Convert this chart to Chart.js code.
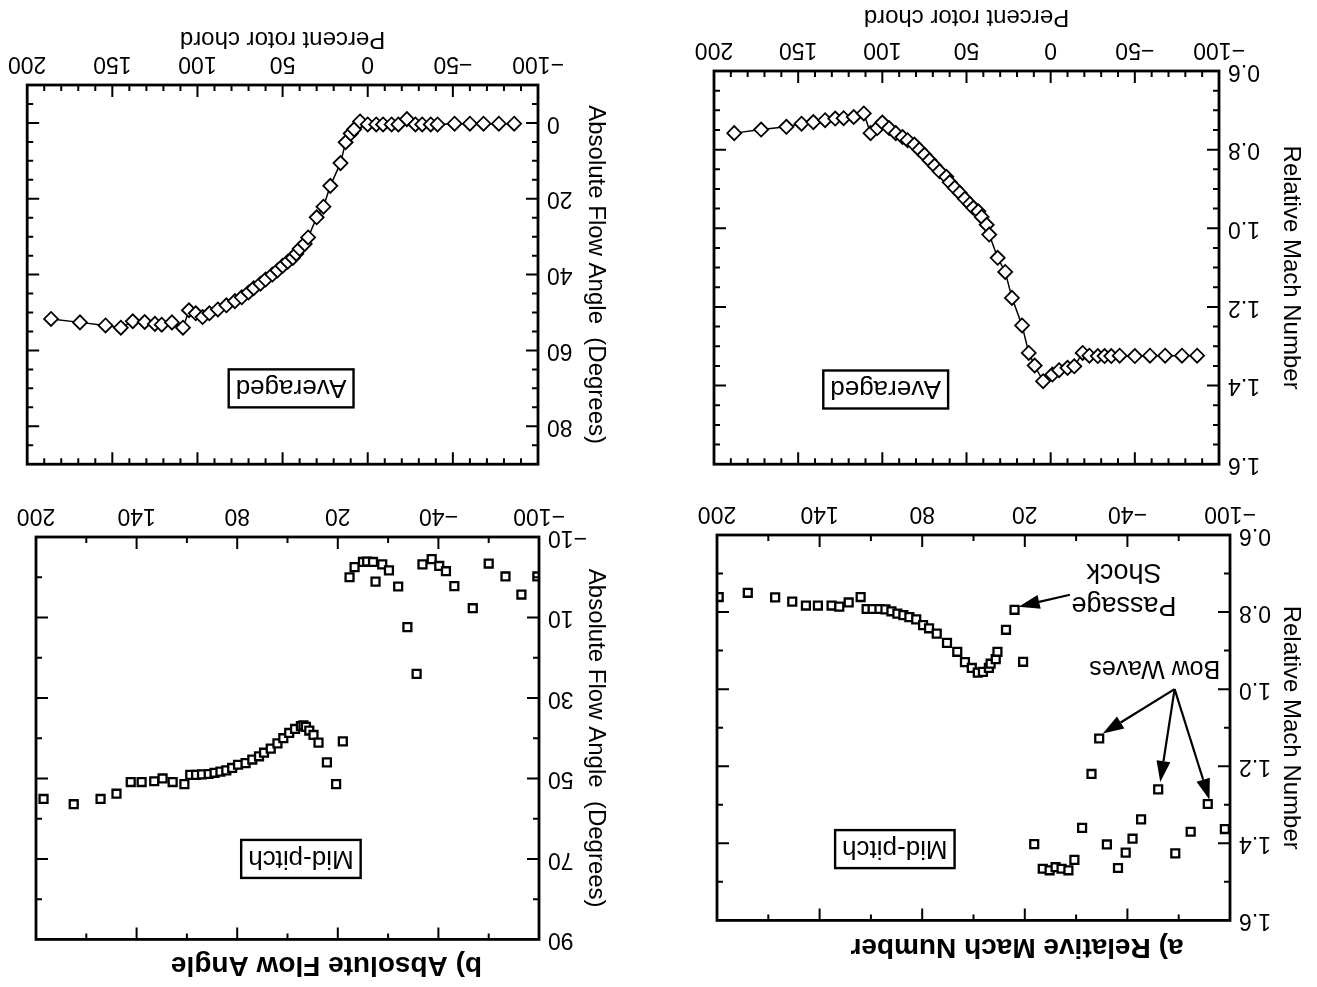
<!DOCTYPE html>
<html>
<head>
<meta charset="utf-8">
<title>Rotor relative Mach number and absolute flow angle</title>
<script src="https://cdn.jsdelivr.net/npm/chart.js@4.4.1/dist/chart.umd.min.js"></script>
<style>
  html, body { margin: 0; background: #fff; }
  /* the whole sheet is printed upside down */
  #sheet { position: relative; width: 1317px; height: 987px; overflow: hidden; transform: rotate(180deg); }
  #sheet canvas { position: absolute; }
</style>
</head>
<body>
<div id="sheet">
  <canvas id="machMid" width="640" height="500" style="left:0;top:0"></canvas>
  <canvas id="flowMid" width="617" height="500" style="left:700px;top:0"></canvas>
  <canvas id="machAvg" width="640" height="487" style="left:0;top:500px"></canvas>
  <canvas id="flowAvg" width="617" height="487" style="left:700px;top:500px"></canvas>
</div>
<script>
// Relative Mach number, passage averaged
const machAvgX = [188, 172, 157, 148, 141, 134, 128, 123, 117, 111,
  107, 103, 100, 96, 92, 88, 85, 81, 78, 75,
  72, 69, 66, 62, 60, 57, 54, 51, 48, 46,
  43, 41, 38, 36.5, 31.5, 27, 23, 17, 13, 9.5,
  4.5, -1, -5, -10, -14, -19, -23, -28, -32, -36,
  -41, -50, -59, -68, -78, -87];
const machAvgY = [0.758, 0.749, 0.742, 0.734, 0.730, 0.725, 0.721, 0.720, 0.717, 0.708,
  0.758, 0.745, 0.731, 0.745, 0.758, 0.768, 0.776, 0.787, 0.800, 0.813,
  0.827, 0.841, 0.855, 0.869, 0.883, 0.897, 0.910, 0.925, 0.938, 0.948,
  0.957, 0.971, 0.991, 1.016, 1.075, 1.111, 1.177, 1.247, 1.317, 1.349,
  1.389, 1.372, 1.361, 1.355, 1.351, 1.317, 1.324, 1.325, 1.325, 1.325,
  1.324, 1.325, 1.324, 1.324, 1.324, 1.324];

// Absolute flow angle, passage averaged
const flowAvgX = [186, 169, 154, 145, 138, 131, 125, 121, 115, 108.5,
  105, 101, 97, 93, 88, 83, 78, 74, 70, 67,
  63, 60, 56, 53, 50, 47, 44, 42, 40, 37,
  35, 30, 26, 22, 16, 13, 10, 8, 4.5, 0,
  -5, -9, -14, -18, -23, -28, -32, -37, -41, -51,
  -60, -68, -77, -86];
const flowAvgY = [51.7, 52.6, 53.4, 54, 52.3, 52.5, 53, 53.2, 52.6, 54,
  49.4, 50.2, 51.2, 50.2, 49.2, 48.1, 47, 46, 44.7, 43.6,
  42.4, 41.3, 40, 38.9, 37.7, 36.6, 35.6, 34.5, 33.2, 31.9,
  30.2, 24.9, 22.1, 16.6, 10.6, 5.1, 2.8, 1.7, -0.4, 0.4,
  0.4, 0.4, 0.4, 0.4, -1.0, 0.4, 0.4, 0.4, 0.4, 0.2,
  0.2, 0.2, 0.2, 0.2];

// Relative Mach number at mid-pitch
const machMidX = [199, 182, 166, 156, 148, 141, 133, 128.5, 123, 116,
  112.5, 109, 105, 101.5, 98, 94.5, 91, 87.5, 83.5, 79.5,
  76, 71.5, 65.5, 59.5, 55, 51, 47.5, 44.5, 41, 40,
  37, 36, 31, 26, 21, 14.5, 9.5, 5.5, 2, -1.5,
  -5.5, -9, -13.5, -19, -23.5, -28, -34.5, -39, -43, -48,
  -58, -68, -77, -87, -97];
const machMidY = [0.761, 0.750, 0.762, 0.773, 0.783, 0.783, 0.783, 0.786, 0.775, 0.761,
  0.792, 0.792, 0.792, 0.793, 0.798, 0.804, 0.808, 0.813, 0.819, 0.834,
  0.842, 0.856, 0.880, 0.903, 0.930, 0.945, 0.957, 0.955, 0.945, 0.934,
  0.922, 0.903, 0.846, 0.794, 0.929, 1.402, 1.466, 1.470, 1.462, 1.466,
  1.470, 1.443, 1.360, 1.220, 1.128, 1.403, 1.464, 1.424, 1.388, 1.338,
  1.260, 1.426, 1.370, 1.298, 1.363];

// Absolute flow angle at mid-pitch
const flowMidX = [195.5, 177.5, 161.5, 152, 143.5, 137, 129.5, 124.5, 118.5, 111.5,
  108, 104.5, 101, 97, 93.5, 90, 86.5, 83, 79.5, 75,
  71, 67, 64, 60, 56, 52.5, 49, 45.5, 42, 40.5,
  39, 37, 34.5, 31.5, 26.5, 21, 17, 13, 10, 5,
  2.5, -1, -2.5, -6.5, -10.5, -16, -21.5, -27, -30.5, -36,
  -40.5, -44.5, -49.5, -60.5, -70, -80, -89.5, -99];
const flowMidY = [55.1, 56.4, 55.1, 53.8, 50.9, 50.9, 50.7, 50, 50.9, 51.4,
  49.1, 49.1, 49, 48.9, 48.6, 48.3, 48, 47.4, 46.6, 46.2,
  45.3, 44.5, 43.6, 42.6, 41.3, 40, 38.7, 37.7, 37, 36.8,
  37.2, 38.1, 39.2, 41.1, 46, 51.4, 40.8, 0, -2.5, -3.8,
  -3.9, -3.8, 1.1, -3.2, -1.7, 2.3, 12.4, 24, -3.2, -4.5,
  -2.8, -1.5, 2.2, 7.7, -3.4, -0.2, 4.3, -0.2];

// tick labels
const chordTicksAvg = [-100, -50, 0, 50, 100, 150, 200];
const chordTicksMid = [-100, -40, 20, 80, 140, 200];
const machTicks = [0.6, 0.8, 1.0, 1.2, 1.4, 1.6];
const angleTicksAvg = [0, 20, 40, 60, 80];
const angleTicksMid = [-10, 10, 30, 50, 70, 90];

const INK = '#000';
const FONT = "'Liberation Sans', Arial, Helvetica, sans-serif";
Chart.defaults.font.family = FONT;
Chart.defaults.color = INK;

const signed = v => String(v).replace('-', '\u2212');
const oneDecimal = v => Number(v).toFixed(1);

// box frame with inward major/minor ticks on all four sides
const frame = {
  id: 'frame',
  afterDatasetsDraw(chart, args, opts) {
    const { ctx, chartArea: a, scales: { x, y } } = chart;
    const isMajor = (list, v) => list.some(m => Math.abs(m - v) < 1e-6);
    const mx = x.ticks.map(t => t.value), my = y.ticks.map(t => t.value);
    ctx.save();
    ctx.strokeStyle = INK;
    ctx.lineWidth = 2.8;
    ctx.strokeRect(a.left, a.top, a.right - a.left, a.bottom - a.top);
    ctx.lineWidth = 2;
    ctx.beginPath();
    const nx = Math.round((x.max - x.min) / opts.xStep);
    for (let i = 1; i < nx; i++) {
      const v = x.min + i * opts.xStep;
      const len = isMajor(mx, v) ? 12 : 6;
      const px = x.getPixelForValue(v);
      ctx.moveTo(px, a.bottom); ctx.lineTo(px, a.bottom - len);
      ctx.moveTo(px, a.top); ctx.lineTo(px, a.top + len);
    }
    const ny = Math.round((y.max - y.min) / opts.yStep);
    for (let i = 1; i < ny; i++) {
      const v = y.min + i * opts.yStep;
      const len = isMajor(my, v) ? 12 : 6;
      const py = y.getPixelForValue(v);
      ctx.moveTo(a.left, py); ctx.lineTo(a.left + len, py);
      ctx.moveTo(a.right, py); ctx.lineTo(a.right - len, py);
    }
    ctx.stroke();
    ctx.restore();
  }
};

function arrow(ctx, x0, y0, x1, y1) {
  const ang = Math.atan2(y1 - y0, x1 - x0);
  const len = 21, half = 7;
  const bx = x1 - Math.cos(ang) * len, by = y1 - Math.sin(ang) * len;
  ctx.beginPath();
  ctx.moveTo(x0, y0);
  ctx.lineTo(bx, by);
  ctx.stroke();
  ctx.beginPath();
  ctx.moveTo(x1, y1);
  ctx.lineTo(bx + Math.sin(ang) * half, by - Math.cos(ang) * half);
  ctx.lineTo(bx - Math.sin(ang) * half, by + Math.cos(ang) * half);
  ctx.closePath();
  ctx.fill();
}

// framed panel label, free text and arrows, placed in data units
const notes = {
  id: 'notes',
  afterDatasetsDraw(chart, args, opts) {
    const { ctx, scales: { x, y } } = chart;
    ctx.save();
    ctx.fillStyle = INK;
    ctx.strokeStyle = INK;
    ctx.textAlign = 'center';
    ctx.textBaseline = 'middle';
    if (opts.box) {
      const b = opts.box;
      ctx.font = '26px ' + FONT;
      const w = ctx.measureText(b.text).width + 14, h = 38;
      const cx = x.getPixelForValue(b.x), cy = y.getPixelForValue(b.y);
      ctx.lineWidth = 2.4;
      ctx.strokeRect(cx - w / 2, cy - h / 2, w, h);
      ctx.fillText(b.text, cx, cy + 1);
    }
    (opts.texts || []).forEach(t => {
      ctx.font = t.size + 'px ' + FONT;
      ctx.fillText(t.text, x.getPixelForValue(t.x), y.getPixelForValue(t.y));
    });
    ctx.lineWidth = 2.2;
    (opts.arrows || []).forEach(r => {
      arrow(ctx, x.getPixelForValue(r.from[0]), y.getPixelForValue(r.from[1]),
        x.getPixelForValue(r.to[0]), y.getPixelForValue(r.to[1]));
    });
    ctx.restore();
  }
};

function makePanel(id, p) {
  const lined = p.style === 'rectRot';
  return new Chart(document.getElementById(id), {
    type: 'scatter',
    data: {
      datasets: [{
        data: p.xs.map((x, i) => ({ x, y: p.ys[i] })),
        showLine: lined,
        borderColor: INK,
        borderWidth: 1.5,
        pointStyle: p.style,
        pointRadius: lined ? 7 : 5.6,
        pointBorderWidth: lined ? 1.8 : 2.3,
        pointBorderColor: INK,
        pointBackgroundColor: '#fff'
      }]
    },
    options: {
      responsive: false,
      animation: false,
      devicePixelRatio: 1,
      events: [],
      layout: { padding: p.pad },
      plugins: {
        legend: { display: false },
        tooltip: { enabled: false },
        title: p.title
          ? { display: true, text: p.title, color: INK, font: { size: 28, weight: 'bold' }, padding: p.titlePad }
          : { display: false },
        frame: { xStep: p.xStep, yStep: p.yStep },
        notes: p.notes || {}
      },
      scales: {
        x: {
          type: 'linear',
          min: -100,
          max: 200,
          afterBuildTicks: s => { s.ticks = p.xTicks.map(value => ({ value })); },
          afterFit: s => { s.height = p.xh; },
          grid: { display: false, drawTicks: false },
          border: { display: false },
          ticks: { font: { size: 23 }, padding: 8, autoSkip: false, maxRotation: 0, callback: signed },
          title: p.xTitlePad !== undefined
            ? { display: true, text: 'Percent rotor chord', font: { size: 24 }, padding: { top: 0, bottom: p.xTitlePad } }
            : { display: false }
        },
        y: {
          type: 'linear',
          min: p.yMin,
          max: p.yMax,
          afterBuildTicks: s => { s.ticks = p.yTicks.map(value => ({ value })); },
          afterFit: s => { s.width = p.yw; },
          grid: { display: false, drawTicks: false },
          border: { display: false },
          ticks: { font: { size: 23 }, padding: 9, autoSkip: false, callback: p.yFormat },
          title: { display: true, text: p.yTitle, font: { size: 24 }, padding: { top: p.yTitlePad, bottom: 0 } }
        }
      }
    },
    plugins: [frame, notes]
  });
}

makePanel('machMid', {
  xs: machMidX, ys: machMidY, style: 'rect',
  xTicks: chordTicksMid, xStep: 30, xh: 48,
  yMin: 0.6, yMax: 1.6, yTicks: machTicks, yStep: 0.1, yw: 87, yFormat: oneDecimal,
  yTitle: 'Relative Mach Number', yTitlePad: 12,
  title: 'a) Relative Mach Number', titlePad: { top: 23, bottom: 10 },
  pad: { left: 0, right: 40, top: 0, bottom: 0 },
  notes: {
    box: { text: 'Mid-pitch', x: 96, y: 1.415 },
    texts: [
      { text: 'Passage', x: -38, y: 0.779, size: 27 },
      { text: 'Shock', x: -38, y: 0.695, size: 27 },
      { text: 'Bow Waves', x: -56, y: 0.945, size: 25 }
    ],
    arrows: [
      { from: [-6.4, 0.755], to: [23.6, 0.786] },
      { from: [-67.6, 1.0], to: [-25.6, 1.115] },
      { from: [-67.6, 1.0], to: [-59.2, 1.241] },
      { from: [-67.6, 1.0], to: [-88, 1.287] }
    ]
  }
});

makePanel('flowMid', {
  xs: flowMidX, ys: flowMidY, style: 'rect',
  xTicks: chordTicksMid, xStep: 30, xh: 50,
  yMin: -10, yMax: 90, yTicks: angleTicksMid, yStep: 10, yw: 78, yFormat: signed,
  yTitle: 'Absolute Flow Angle  (Degrees)', yTitlePad: 7,
  title: 'b) Absolute Flow Angle', titlePad: { top: 5, bottom: 9 },
  pad: { left: 0, right: 36, top: 0, bottom: 0 },
  notes: { box: { text: 'Mid-pitch', x: 42, y: 70 } }
});

makePanel('machAvg', {
  xs: machAvgX, ys: machAvgY, style: 'rectRot',
  xTicks: chordTicksAvg, xStep: 10, xh: 71, xTitlePad: 2,
  yMin: 0.6, yMax: 1.6, yTicks: machTicks, yStep: 0.05, yw: 98, yFormat: oneDecimal,
  yTitle: 'Relative Mach Number', yTitlePad: 12,
  pad: { left: 0, right: 37, top: 18, bottom: 0 },
  notes: { box: { text: 'Averaged', x: 98, y: 1.41 } }
});

makePanel('flowAvg', {
  xs: flowAvgX, ys: flowAvgY, style: 'rectRot',
  xTicks: chordTicksAvg, xStep: 10, xh: 85, xTitlePad: 24,
  yMin: -10, yMax: 90, yTicks: angleTicksAvg, yStep: 5, yw: 79, yFormat: signed,
  yTitle: 'Absolute Flow Angle  (Degrees)', yTitlePad: 7,
  pad: { left: 0, right: 26, top: 15, bottom: 0 },
  notes: { box: { text: 'Averaged', x: 45, y: 70 } }
});
</script>
</body>
</html>
